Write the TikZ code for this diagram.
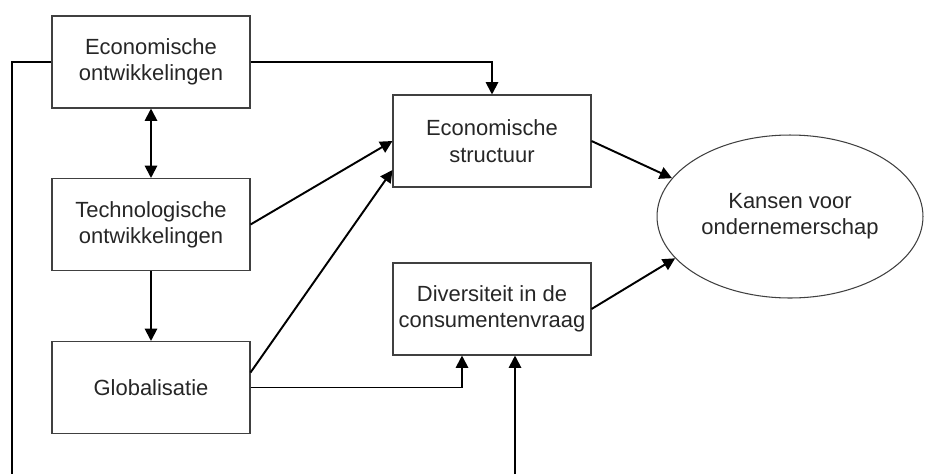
\documentclass[tikz,border=0pt]{standalone}
\usepackage{fontspec}
\setmainfont{Liberation Sans}
\usetikzlibrary{arrows.meta,calc,shapes.geometric}

\begin{document}
\begin{tikzpicture}
  [x=0.02cm,y=-0.02cm,
   every node/.style={font=\fontsize{12.5}{15}\selectfont, text=black!85, align=center},
   blok/.style={rectangle, draw=black!75, line width=0.6pt, minimum width=3.96cm, minimum height=1.84cm, inner sep=0pt},
   pijl/.style={-{Triangle[length=7pt,width=7pt]}, line width=1.1pt},
   dubbelpijl/.style={{Triangle[length=7pt,width=7pt]}-{Triangle[length=7pt,width=7pt]}, line width=1.1pt}]

  \useasboundingbox (0,0) rectangle (926,474);

  %%%%%%%%%%%%%%%%%%%%%% LEFT COLUMN %%%%%%%%%%%%%%%%%%%%%%
  \node[blok](n_eco) at (151,62)      {Economische\\ontwikkelingen};
  \node[blok](n_tech) at (151,224.5)  {Technologische\\ontwikkelingen};
  \node[blok](n_glob) at (151,387.5)  {Globalisatie};

  %%%%%%%%%%%%%%%%%%%%%% MIDDLE %%%%%%%%%%%%%%%%%%%%%%
  \node[blok](n_struc) at (492,141)   {Economische\\structuur};
  \node[blok](n_div) at (492,309)     {Diversiteit in de\\consumentenvraag};

  %%%%%%%%%%%%%%%%%%%%%% RIGHT %%%%%%%%%%%%%%%%%%%%%%
  \node[ellipse, draw=black!75, line width=0.6pt, minimum width=5.32cm, minimum height=3.26cm, inner sep=0pt](n_kans) at (790,216.5) {Kansen voor\\ondernemerschap};

  % loose ends at the lower edge
  \coordinate (out_1) at (12,474);
  \coordinate (out_2) at (515,474);

  \draw[dubbelpijl] (n_eco) -- (n_tech);

  \foreach \fromN/\toN in {n_tech/n_glob,n_tech.east/n_struc.west,n_struc.east/n_kans.162,n_div.east/n_kans.200}
    \draw[pijl] (\fromN) -- (\toN);

  \draw[pijl] ($(n_glob.east)+(0,-15)$) -- ($(n_struc.west)+(0,29)$);
  \draw[pijl] (n_eco.east) -| (n_struc.north);
  \draw[pijl] (n_glob.east) -| ($(n_div.south)+(-30,0)$);
  \draw[pijl] (out_2) -- (out_2 |- n_div.south);
  \draw[line width=1.1pt] (n_eco.west) -| (out_1);

\end{tikzpicture}
\end{document}
